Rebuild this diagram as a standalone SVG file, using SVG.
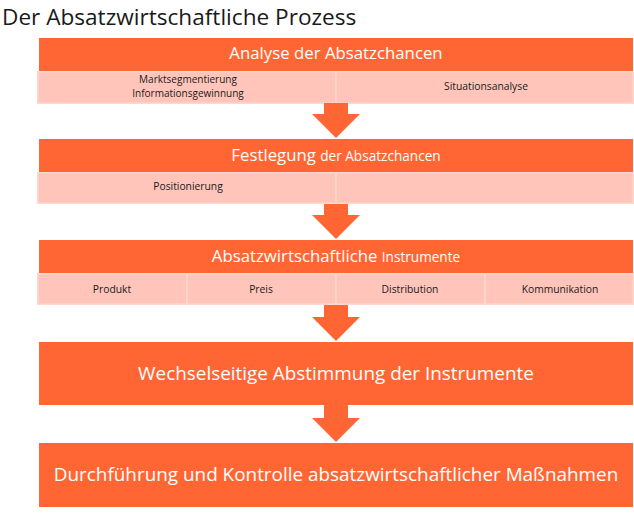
<svg xmlns="http://www.w3.org/2000/svg" width="634" height="514" viewBox="0 0 634 514">
<defs>
<style>
.hdr{fill:#FF6633;}
.cell{fill:#FFC5BA;stroke:#FFD7CF;stroke-width:1.5;}
.arrow{fill:#FF6633;}
text{font-family:"Open Sans","Liberation Sans",sans-serif;}
.title{font-size:22.6px;fill:#1a1a1a;}
.ht{fill:#ffffff;font-size:16.8px;text-anchor:middle;}
.big{fill:#ffffff;font-size:18.9px;text-anchor:middle;}
.sm{fill:#1a1a1a;font-size:10.3px;text-anchor:middle;}
.sm2{fill:#1a1a1a;font-size:10px;text-anchor:middle;}
</style>
</defs>
<rect width="634" height="514" fill="#ffffff"/>
<text class="title" x="2" y="25">Der Absatzwirtschaftliche Prozess</text>

<g id="node-analyse">
<rect class="hdr" x="39" y="38" width="594" height="33"/>
<text class="ht" x="336" y="59">Analyse der Absatzchancen</text>
<rect class="cell" x="37.75" y="71.75" width="298.25" height="31.5"/>
<rect class="cell" x="336" y="71.75" width="297.25" height="31.5"/>
<text class="sm2" x="188" y="82.5">Marktsegmentierung</text>
<text class="sm2" x="188" y="96.5">Informationsgewinnung</text>
<text class="sm" x="486" y="90">Situationsanalyse</text>
</g>

<g id="node-festlegung">
<rect class="hdr" x="39" y="139" width="594" height="33"/>
<text class="ht" x="336" y="161">Festlegung <tspan font-size="13.6px">der Absatzchancen</tspan></text>
<rect class="cell" x="37.75" y="172.75" width="298.25" height="30.5"/>
<rect class="cell" x="336" y="172.75" width="297.25" height="30.5"/>
<text class="sm" x="188" y="190">Positionierung</text>
</g>

<g id="node-instrumente">
<rect class="hdr" x="39" y="240" width="594" height="33"/>
<text class="ht" x="336" y="262">Absatzwirtschaftliche <tspan font-size="13.6px">Instrumente</tspan></text>
<rect class="cell" x="37.75" y="273.75" width="149.25" height="30.5"/>
<rect class="cell" x="187" y="273.75" width="149" height="30.5"/>
<rect class="cell" x="336" y="273.75" width="149" height="30.5"/>
<rect class="cell" x="485" y="273.75" width="148.25" height="30.5"/>
<text class="sm" x="112" y="293">Produkt</text>
<text class="sm" x="261" y="293">Preis</text>
<text class="sm" x="410" y="293">Distribution</text>
<text class="sm" x="560" y="293">Kommunikation</text>
</g>

<g id="node-abstimmung">
<rect class="hdr" x="39" y="342" width="594" height="63"/>
<text class="big" x="336" y="380">Wechselseitige Abstimmung der Instrumente</text>
</g>

<g id="node-durchfuehrung">
<rect class="hdr" x="39" y="443" width="594" height="64"/>
<text class="big" x="336" y="481">Durchführung und Kontrolle absatzwirtschaftlicher Maßnahmen</text>
</g>

<g id="connectors">
<polygon class="arrow" points="324,103 348,103 348,114 360,114 336,138 312,114 324,114"/>
<polygon class="arrow" points="324,204 348,204 348,215 360,215 336,239 312,215 324,215"/>
<polygon class="arrow" points="324,305 348,305 348,317 360,317 336,341 312,317 324,317"/>
<polygon class="arrow" points="324,405 348,405 348,418 360,418 336,442 312,418 324,418"/>
</g>
</svg>
